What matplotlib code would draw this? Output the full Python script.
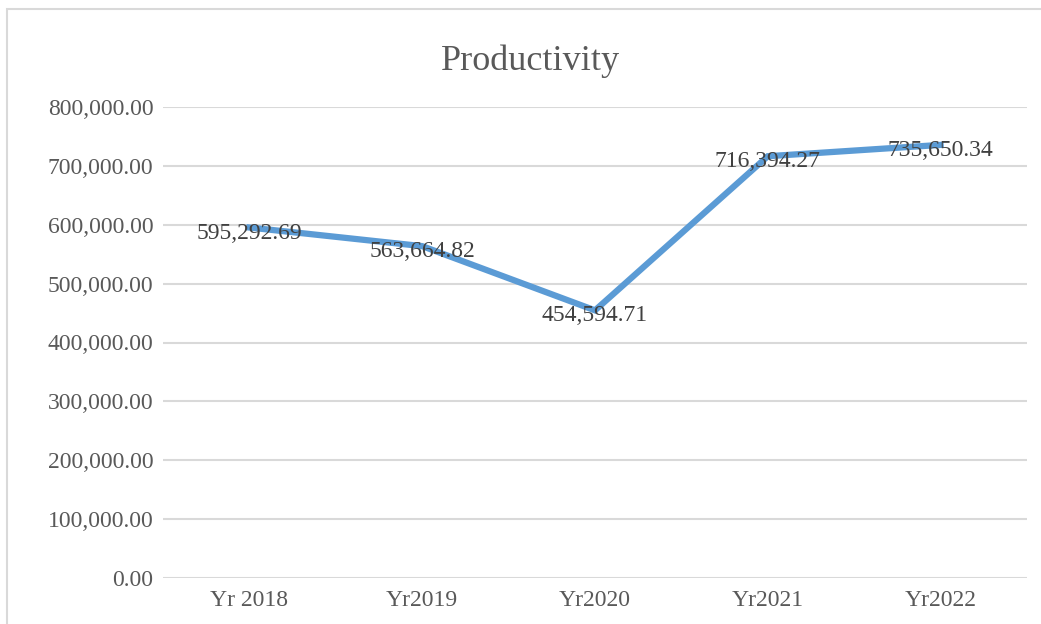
import matplotlib

matplotlib.use("Agg")
import matplotlib.pyplot as plt
from matplotlib.patches import Rectangle
from matplotlib.ticker import FuncFormatter

categories = ["Yr 2018", "Yr2019", "Yr2020", "Yr2021", "Yr2022"]
productivity = [595292.69, 563664.82, 454594.71, 716394.27, 735650.34]

LINE_COLOR = "#5B9BD5"
TEXT_COLOR = "#595959"
GRID_COLOR = "#D9D9D9"

plt.rcParams["font.family"] = ["Liberation Serif", "DejaVu Serif"]

fig = plt.figure(figsize=(10.41, 6.24), dpi=100)
fig.patch.set_facecolor("white")

# chart border (Excel-style frame, cut off at right/bottom)
fig.patches.append(
    Rectangle((7 / 1041, -0.02), 1.05, 1 - 9 / 624 + 0.02,
              transform=fig.transFigure, fill=False,
              edgecolor="#D9D9D9", linewidth=1.5, zorder=0)
)

ax = fig.add_axes([163 / 1041, 1 - 578 / 624, (1027 - 163) / 1041, (578 - 107) / 624])
x = range(len(categories))
ax.plot(x, productivity, color=LINE_COLOR, linewidth=4.5, solid_joinstyle="miter", zorder=3)

for xi, v in zip(x, productivity):
    ax.annotate(f"{v:,.2f}", (xi, v), xytext=(0, -4), textcoords="offset points",
                ha="center", va="center", fontsize=17, color="#404040", zorder=4)

ax.set_xlim(-0.5, len(categories) - 0.5)
ax.set_ylim(0, 800000)
ax.set_yticks(range(0, 800001, 100000))
ax.yaxis.set_major_formatter(FuncFormatter(lambda v, _: f"{v:,.2f}"))
ax.set_xticks(list(x))
ax.set_xticklabels(categories)
ax.tick_params(axis="both", length=0, labelsize=17, labelcolor=TEXT_COLOR)
ax.tick_params(axis="y", pad=7)
ax.tick_params(axis="x", pad=9)
ax.grid(axis="y", color=GRID_COLOR, linewidth=1.5)
ax.set_axisbelow(True)
for s in ax.spines.values():
    s.set_visible(False)

fig.text(531 / 1041, 1 - 61 / 624, "Productivity", ha="center", va="center",
         fontsize=26, color=TEXT_COLOR)

fig.savefig("out.png", dpi=100)
